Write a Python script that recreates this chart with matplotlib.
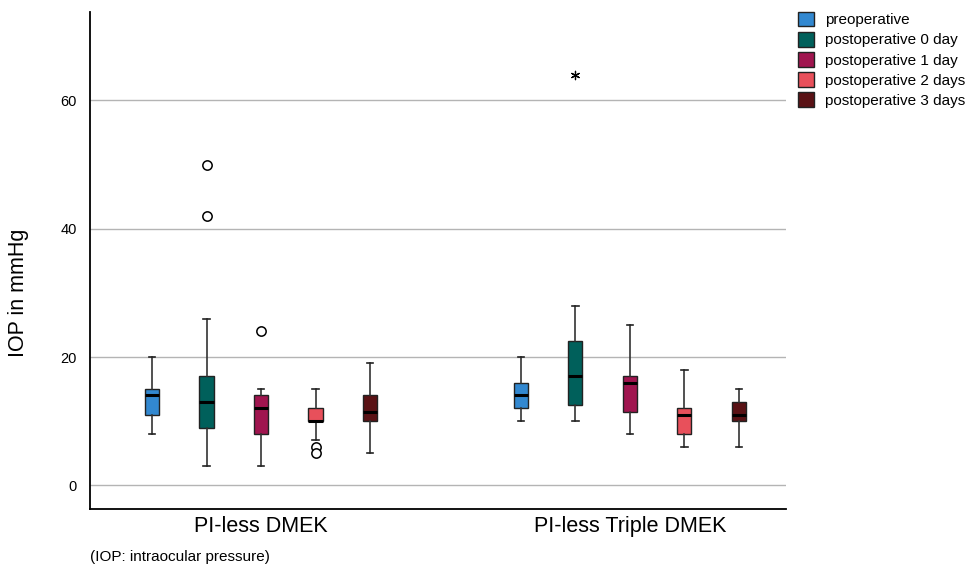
import matplotlib
matplotlib.use("Agg")
import matplotlib.pyplot as plt
from matplotlib.patches import Patch

plt.rcParams['font.family'] = ['Liberation Sans', 'DejaVu Sans']

groups = ['PI-less DMEK', 'PI-less Triple DMEK']
series = ['preoperative', 'postoperative 0 day', 'postoperative 1 day',
          'postoperative 2 days', 'postoperative 3 days']
colors = ['#3288d0', '#00605b', '#a0154f', '#e8505b', '#5a1215']

# (whislo, q1, med, q3, whishi) per series, per group
dmek = [(8, 11, 14, 15, 20),
        (3, 9, 13, 17, 26),
        (3, 8, 12, 14, 15),
        (7, 10, 10, 12, 15),
        (5, 10, 11.5, 14, 19)]
triple = [(10, 12, 14, 16, 20),
          (10, 12.5, 17, 22.5, 28),
          (8, 11.5, 16, 17, 25),
          (6, 8, 11, 12, 18),
          (6, 10, 11, 13, 15)]
# outliers (circles) and extremes (stars)
dmek_out = [[], [50, 42], [24], [6, 5], []]
triple_out = [[], [], [], [], []]
dmek_ext = [[], [], [], [], []]
triple_ext = [[], [64], [], [], []]

fig = plt.figure(figsize=(9.7, 5.7), dpi=100)
ax = fig.add_axes([0.0928, 0.107, 0.7175, 0.872])

spacing = 0.1477
for gi, (data, outs, exts) in enumerate([(dmek, dmek_out, dmek_ext),
                                         (triple, triple_out, triple_ext)]):
    for si, vals in enumerate(data):
        pos = gi + (si - 2) * spacing
        st = dict(whislo=vals[0], q1=vals[1], med=vals[2], q3=vals[3],
                  whishi=vals[4], fliers=[])
        ax.bxp([st], positions=[pos], widths=0.038, patch_artist=True,
               showfliers=False,
               boxprops=dict(facecolor=colors[si], edgecolor='#222222', linewidth=1),
               medianprops=dict(color='black', linewidth=2.2),
               whiskerprops=dict(color='#333333', linewidth=1.2),
               capprops=dict(color='#222222', linewidth=1.2),
               capwidths=0.017, zorder=3)
        if outs[si]:
            ax.scatter([pos] * len(outs[si]), outs[si], s=45, facecolors='white',
                       edgecolors='black', linewidths=1.1, zorder=4)
        if exts[si]:
            ax.scatter([pos] * len(exts[si]), exts[si], marker=(6, 2, 0), s=36,
                       color='black', linewidths=0.9, zorder=4)

ax.set_xlim(-0.4634, 1.4228)
ax.set_ylim(-3.7, 73.8)
ax.set_yticks([0, 20, 40, 60])
ax.yaxis.grid(True, color='#b4b4b4', linewidth=1)
ax.set_axisbelow(True)
ax.tick_params(axis='y', length=0, labelsize=10.5, pad=9.5)
ax.set_xticks([0, 1])
ax.set_xticklabels(groups, fontsize=15.5)
ax.tick_params(axis='x', length=0, pad=5)
ax.spines['top'].set_visible(False)
ax.spines['right'].set_visible(False)
ax.spines['left'].set_linewidth(1.3)
ax.spines['bottom'].set_linewidth(1.3)
ax.set_ylabel('IOP in mmHg', fontsize=15.5, va='center')
ax.yaxis.set_label_coords(-0.1034, 0.435)

fig.text(0.093, 0.015, '(IOP: intraocular pressure)', fontsize=11)

handles = [Patch(facecolor=c, edgecolor='#222222', label=s) for c, s in zip(colors, series)]
fig.legend(handles=handles, loc='upper left', bbox_to_anchor=(0.816, 0.99),
           frameon=False, fontsize=11, handlelength=1.1, handleheight=1.1,
           handletextpad=0.7, labelspacing=0.3, borderaxespad=0)

fig.savefig('out.png', dpi=100)
